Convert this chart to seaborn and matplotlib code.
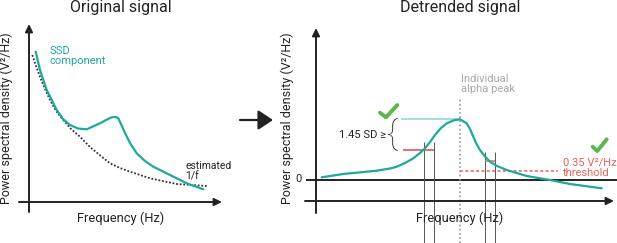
import matplotlib
matplotlib.use("Agg")
import matplotlib.pyplot as plt
import seaborn as sns

sns.set_theme(style="white")
plt.rcParams["font.family"] = ["Roboto", "DejaVu Sans"]

# schematic values (arbitrary units, origin at the axis crossing)
# left panel: original spectrum
ssd_freq = [6.7, 11, 17.7, 27.7, 34, 41, 49, 57.7, 71, 77, 82.7, 87, 89.3, 92, 96,
            101, 107.7, 116, 124.3, 141, 157.7, 174.3]
ssd_power = [150.3, 132, 112, 92, 83, 77, 73.5, 72.7, 78.7, 82, 84.7, 85, 83.7, 78, 69,
             59, 48.7, 41, 35.3, 27, 18.7, 12.7]
fit_freq = [3.3, 7, 11, 16, 21, 27, 34.3, 42, 51, 61, 72.7, 81, 91, 101, 121, 147.7, 177.7]
fit_power = [147, 136, 125.3, 113, 102, 91, 82, 73, 65.3, 55, 45.3, 38.7, 34, 30.3,
             23.7, 18, 16]

# right panel: detrended spectrum
det_freq = [5.7, 27.3, 60.7, 74, 80.7, 89, 97.3, 104, 109, 114, 119, 125, 130.7, 138,
            144, 150.7, 154, 157.3, 160.5, 164, 169, 174, 181, 190.7, 210.7, 234, 254, 285.7]
det_power = [2.2, 5.5, 8.8, 11, 12.8, 16.5, 21.2, 26.5, 31.2, 37.5, 44.5, 51.5, 56.2, 59.2,
             60.2, 56.2, 50.5, 42.8, 35.5, 29.5, 23, 17.8, 13.5, 9.5, 3.5, -0.5, -4.5, -8.8]
peak_freq = 144
peak_power = 60.2
sd_level = 29.5          # 1.45 SD below the peak
threshold = 8.8          # 0.35 V2/Hz
left_band = [108.3, 118.3]
right_band = [169, 179]
right_level = 18.5

teal = "#1fa89c"
light_teal = "#9edcd5"
red = "#e4655c"
green = "#5db64c"
grey_txt = "#a8a8a8"
ink = "#222222"

fig = plt.figure(figsize=(6.17, 2.43), dpi=100)
axl = fig.add_axes([0, 0, 230 / 617, 1])
axr = fig.add_axes([280 / 617, 0, 337 / 617, 1])
axl.set_xlim(-29, 201)
axl.set_ylim(-41, 202)
axr.set_xlim(-36, 301)
axr.set_ylim(-63.5, 179.5)
for ax in (axl, axr):
    ax.axis("off")

ax_arrow = dict(arrowstyle="-|>,head_length=0.45,head_width=0.22", color=ink,
                lw=1.4, mutation_scale=10, shrinkA=0, shrinkB=0)

# ---- left panel
axl.annotate("", xy=(0, 178), xytext=(0, -10), arrowprops=ax_arrow)
axl.annotate("", xy=(193, 0), xytext=(-10, 0), arrowprops=ax_arrow)
sns.lineplot(x=fit_freq, y=fit_power, sort=False, estimator=None, ax=axl,
             color="#333333", lw=1.3, linestyle=(0, (1, 1)))
sns.lineplot(x=ssd_freq, y=ssd_power, sort=False, estimator=None, ax=axl,
             color=teal, lw=1.6)
axl.text(92, 194, "Original signal", ha="center", va="center", fontsize=11.5, color=ink)
axl.text(-23, 84, "Power spectral density (V²/Hz)", rotation=90, ha="center",
         va="center", fontsize=9, color=ink)
axl.text(92, -16, "Frequency (Hz)", ha="center", va="center", fontsize=9.3, color=ink)
axl.text(21, 156, "SSD\ncomponent", ha="left", va="top", fontsize=8, color=teal,
         linespacing=1.0)
axl.text(156, 30.5, "estimated\n1/f", ha="left", va="center", fontsize=7.5, color=ink,
         linespacing=1.05)

# middle arrow
axl.annotate("", xy=(273, 123), xytext=(240, 123), xycoords="figure pixels",
             textcoords="figure pixels", annotation_clip=False,
             arrowprops=dict(arrowstyle="-|>,head_length=0.45,head_width=0.3",
                             color=ink, lw=1.6, mutation_scale=20,
                             shrinkA=0, shrinkB=0))

# ---- right panel
axr.annotate("", xy=(0, 151.5), xytext=(0, -33.5), arrowprops=ax_arrow)
axr.annotate("", xy=(298, -21.5), xytext=(-11, -21.5), arrowprops=ax_arrow)
axr.hlines(0, -10, 301, color=ink, lw=1.4)
axr.text(-17, 0, "0", ha="center", va="center", fontsize=8, color=ink)

axr.vlines(peak_freq, -63.5, 82.5, color="#9a9a9a", lw=1.2, linestyles=(0, (1, 1.5)))
axr.vlines(left_band, -63.5, 37.8, color="#555555", lw=0.7)
axr.vlines(right_band, -63.5, 27.5, color="#555555", lw=0.7)
axr.hlines(peak_power, 85, peak_freq, color=light_teal, lw=1.3)
axr.hlines(sd_level, 87, left_band[1], color=red, lw=1.3)
axr.hlines(right_level, right_band[0], right_band[1], color=red, lw=1.1)
axr.hlines(threshold, peak_freq, 242, color=red, lw=1.1, linestyles=(0, (2, 1.5)))

sns.lineplot(x=det_freq, y=det_power, sort=False, estimator=None, ax=axr,
             color=teal, lw=1.6)

sns.lineplot(x=[64, 70, 81.3], y=[66.8, 62.2, 74.5], sort=False, estimator=None,
             ax=axr, color=green, lw=2.8)
sns.lineplot(x=[276.7, 281.3, 290.7], y=[32.8, 28.5, 40.2], sort=False, estimator=None,
             ax=axr, color=green, lw=2.8)

axr.text(75.7, 45.5, "{", ha="center", va="center", fontsize=24, color=ink,
         fontweight="light")
axr.text(70, 44.5, "1.45 SD ≥", ha="right", va="center", fontsize=8, color=ink)
axr.text(144, 171.5, "Detrended signal", ha="center", va="center", fontsize=11.5,
         color=ink)
axr.text(-29, 61.5, "Power spectral density (V²/Hz)", rotation=90, ha="center",
         va="center", fontsize=9, color=ink)
axr.text(144, -38.5, "Frequency (Hz)", ha="center", va="center", fontsize=9.3, color=ink)
axr.text(145, 95.5, "Individual\nalpha peak", ha="left", va="center", fontsize=8,
         color=grey_txt, linespacing=1.0)
axr.text(247, 12, "0.35 V²/Hz\nthreshold", ha="left", va="center", fontsize=8,
         color=red, linespacing=1.0)

fig.savefig("out.png", dpi=100)
